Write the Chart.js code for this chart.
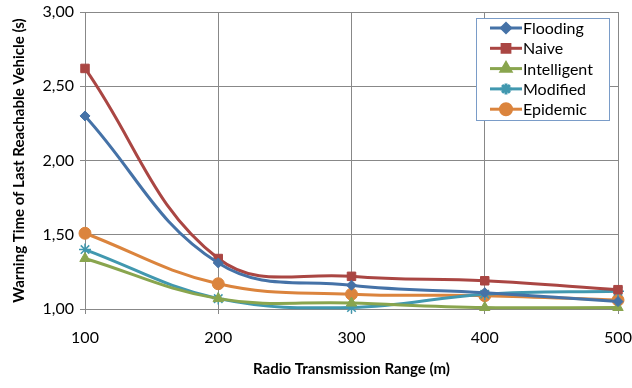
<!DOCTYPE html>
<html>
<head>
<meta charset="utf-8">
<script src="https://cdn.jsdelivr.net/npm/chart.js@4/dist/chart.umd.min.js"></script>
<style>
  html, body { margin: 0; padding: 0; background: #fff; }
  #wrap { width: 632px; height: 388px; }
</style>
</head>
<body>
<div id="wrap"><canvas id="warningChart"></canvas></div>
<script>
// data
const ranges = [100, 200, 300, 400, 500];
const flooding = [2.30, 1.31, 1.16, 1.11, 1.05];
const naive = [2.62, 1.34, 1.22, 1.19, 1.13];
const intelligent = [1.34, 1.07, 1.04, 1.01, 1.01];
const modified = [1.40, 1.07, 1.01, 1.10, 1.12];
const epidemic = [1.51, 1.17, 1.10, 1.09, 1.06];
const yTicks = [1.00, 1.50, 2.00, 2.50, 3.00];

const FONT = "Lato, 'Open Sans', sans-serif";

function series(label, values, color, style, radius) {
    return {
        label: label,
        data: ranges.map((r, i) => ({ x: r, y: values[i] })),
        borderColor: color,
        backgroundColor: color,
        borderWidth: 3,
        pointStyle: style,
        pointRadius: radius,
        pointBorderWidth: style === "star" ? 1.5 : 1,
        tension: 0.4,
        clip: false
    };
}

// legend drawn inside the plot area like the original
const boxLegend = {
    id: "boxLegend",
    afterDraw(chart) {
        const ctx = chart.ctx;
        const x0 = 476, y0 = 18, w = 133, h = 102;
        ctx.save();
        ctx.fillStyle = "#fff";
        ctx.fillRect(x0, y0, w, h);
        ctx.strokeStyle = "#7a9cc8";
        ctx.lineWidth = 1;
        ctx.strokeRect(x0 + 0.5, y0 + 0.5, w, h);
        ctx.font = "16px " + FONT;
        ctx.textBaseline = "middle";
        chart.data.datasets.forEach((ds, i) => {
            const cy = y0 + 10 + i * 20.3;
            ctx.strokeStyle = ds.borderColor;
            ctx.lineWidth = 3;
            ctx.beginPath();
            ctx.moveTo(x0 + 14, cy);
            ctx.lineTo(x0 + 46, cy);
            ctx.stroke();
            ctx.fillStyle = ds.backgroundColor;
            Chart.helpers.drawPoint(ctx, {
                pointStyle: ds.pointStyle,
                radius: ds.pointRadius - 0.5,
                borderWidth: ds.pointBorderWidth
            }, x0 + 30, cy);
            ctx.fillStyle = "#000";
            ctx.fillText(ds.label, x0 + 47, cy + 1);
        });
        ctx.restore();
    }
};

const ctx = document.getElementById("warningChart").getContext("2d");
new Chart(ctx, {
    type: "line",
    data: {
        datasets: [
            series("Flooding", flooding, "#4572A7", "rectRot", 5),
            series("Naive", naive, "#AA4643", "rect", 6),
            series("Intelligent", intelligent, "#89A54E", "triangle", 6),
            series("Modified", modified, "#4198AF", "star", 6),
            series("Epidemic", epidemic, "#DB843D", "circle", 6)
        ]
    },
    options: {
        responsive: true,
        maintainAspectRatio: false,
        animation: false,
        layout: { padding: { top: 12, right: 14, left: 6, bottom: 6 } },
        plugins: {
            legend: { display: false },
            tooltip: { enabled: false }
        },
        scales: {
            x: {
                type: "linear",
                min: 100,
                max: 500,
                afterBuildTicks: s => { s.ticks = ranges.map(v => ({ value: v })); },
                ticks: { color: "#000", font: { family: FONT, size: 16 }, padding: 14 },
                grid: { color: "#888", lineWidth: 1, tickLength: 5 },
                border: { color: "#888" },
                title: {
                    display: true,
                    text: "Radio Transmission Range (m)",
                    color: "#000",
                    font: { family: FONT, size: 15, weight: "bold" },
                    padding: { top: 13 }
                },
                afterFit: s => { s.height = 73; s.paddingLeft = 0; s.paddingRight = 0; }
            },
            y: {
                min: 1,
                max: 3,
                afterBuildTicks: s => { s.ticks = yTicks.map(v => ({ value: v })); },
                ticks: {
                    color: "#000",
                    font: { family: FONT, size: 16 },
                    padding: 6,
                    callback: v => v.toFixed(2).replace(".", ",")
                },
                grid: { color: "#888", lineWidth: 1, tickLength: 5 },
                border: { color: "#888" },
                title: {
                    display: true,
                    text: "Warning Time of Last Reachable Vehicle (s)",
                    color: "#000",
                    font: { family: FONT, size: 15, weight: "bold" },
                    padding: { bottom: 4 }
                },
                afterFit: s => { s.width = 79; s.paddingTop = 0; s.paddingBottom = 0; }
            }
        }
    },
    plugins: [boxLegend]
});
</script>
</body>
</html>
